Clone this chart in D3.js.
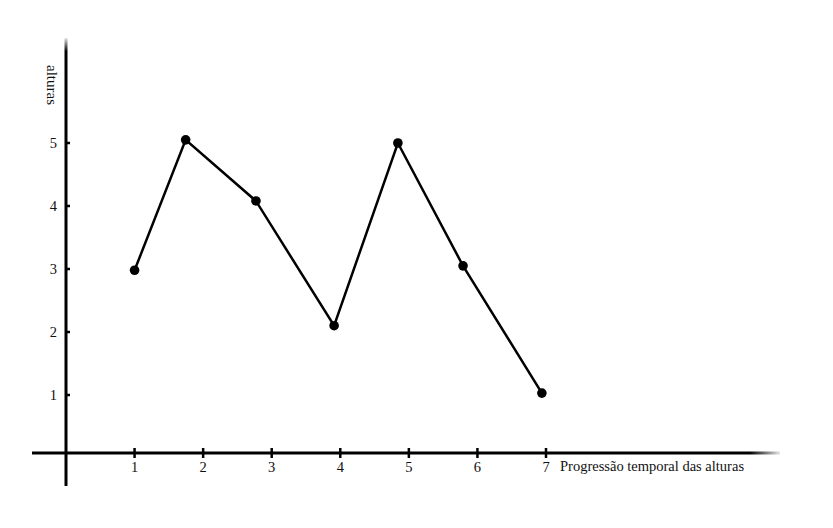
<!DOCTYPE html>
<html>
<head>
<meta charset="utf-8">
<script src="https://cdn.jsdelivr.net/npm/d3@7"></script>
<style>
  body { margin: 0; background: #fff; }
  text { font-family: "Liberation Serif", "DejaVu Serif", serif; fill: #111; }
</style>
</head>
<body>
<div id="chart"></div>
<script>
// data
const timeSteps = [1, 1.745, 2.77, 3.91, 4.84, 5.79, 6.94];
const heights = [2.98, 5.05, 4.08, 2.10, 5.0, 3.05, 1.03];
const xTicks = [1, 2, 3, 4, 5, 6, 7];
const yTicks = [1, 2, 3, 4, 5];
const xLabel = "Progressão temporal das alturas";
const yLabel = "alturas";

const width = 833;
const height = 528;

const svg = d3.select("#chart")
  .append("svg")
  .attr("width", width)
  .attr("height", height);

const x = d3.scaleLinear().domain([0, 7]).range([66, 546]);
const y = d3.scaleLinear().domain([1, 5]).range([395, 143]);
const axisY = 453; // where the horizontal axis sits

// fading ends on the axes
const defs = svg.append("defs");
const gx = defs.append("linearGradient").attr("id", "fadeX")
  .attr("gradientUnits", "userSpaceOnUse")
  .attr("x1", 32).attr("x2", 780).attr("y1", 0).attr("y2", 0);
gx.append("stop").attr("offset", "0%").attr("stop-color", "#000");
gx.append("stop").attr("offset", "96%").attr("stop-color", "#000");
gx.append("stop").attr("offset", "100%").attr("stop-color", "#000").attr("stop-opacity", 0.1);

const gy = defs.append("linearGradient").attr("id", "fadeY")
  .attr("gradientUnits", "userSpaceOnUse")
  .attr("x1", 0).attr("x2", 0).attr("y1", 38).attr("y2", 486);
gy.append("stop").attr("offset", "0%").attr("stop-color", "#000").attr("stop-opacity", 0.1);
gy.append("stop").attr("offset", "3%").attr("stop-color", "#000");
gy.append("stop").attr("offset", "100%").attr("stop-color", "#000");

// axes lines
svg.append("line")
  .attr("x1", 32).attr("x2", 780)
  .attr("y1", axisY).attr("y2", axisY)
  .attr("stroke", "url(#fadeX)")
  .attr("stroke-width", 3);

svg.append("line")
  .attr("x1", x(0)).attr("x2", x(0))
  .attr("y1", 38).attr("y2", 486)
  .attr("stroke", "url(#fadeY)")
  .attr("stroke-width", 3);

// x ticks
const xt = svg.append("g")
  .selectAll("g")
  .data(xTicks)
  .enter()
  .append("g");

xt.append("line")
  .attr("x1", d => x(d)).attr("x2", d => x(d))
  .attr("y1", axisY - 5).attr("y2", axisY + 5)
  .attr("stroke", "#000")
  .attr("stroke-width", 2.5);

xt.append("text")
  .attr("x", d => x(d))
  .attr("y", axisY + 19)
  .attr("text-anchor", "middle")
  .attr("font-size", "14.5px")
  .text(d => d);

// y ticks
const yt = svg.append("g")
  .selectAll("g")
  .data(yTicks)
  .enter()
  .append("g");

yt.append("line")
  .attr("x1", x(0) - 1).attr("x2", x(0) + 4)
  .attr("y1", d => y(d)).attr("y2", d => y(d))
  .attr("stroke", "#000")
  .attr("stroke-width", 2.5);

yt.append("text")
  .attr("x", x(0) - 9)
  .attr("y", d => y(d) + 5)
  .attr("text-anchor", "end")
  .attr("font-size", "14.5px")
  .text(d => d);

// axis labels
svg.append("text")
  .attr("x", 560)
  .attr("y", axisY + 18)
  .attr("font-size", "14.5px")
  .text(xLabel);

svg.append("text")
  .attr("transform", "translate(47,85) rotate(90)")
  .attr("text-anchor", "middle")
  .attr("font-size", "15px")
  .text(yLabel);

// the line and its points
const points = timeSteps.map((t, i) => ({ t: t, h: heights[i] }));

svg.append("path")
  .datum(points)
  .attr("fill", "none")
  .attr("stroke", "#000")
  .attr("stroke-width", 2.5)
  .attr("d", d3.line().x(d => x(d.t)).y(d => y(d.h)));

svg.append("g")
  .selectAll("circle")
  .data(points)
  .enter()
  .append("circle")
  .attr("cx", d => x(d.t))
  .attr("cy", d => y(d.h))
  .attr("r", 4.8)
  .attr("fill", "#000");
</script>
</body>
</html>
